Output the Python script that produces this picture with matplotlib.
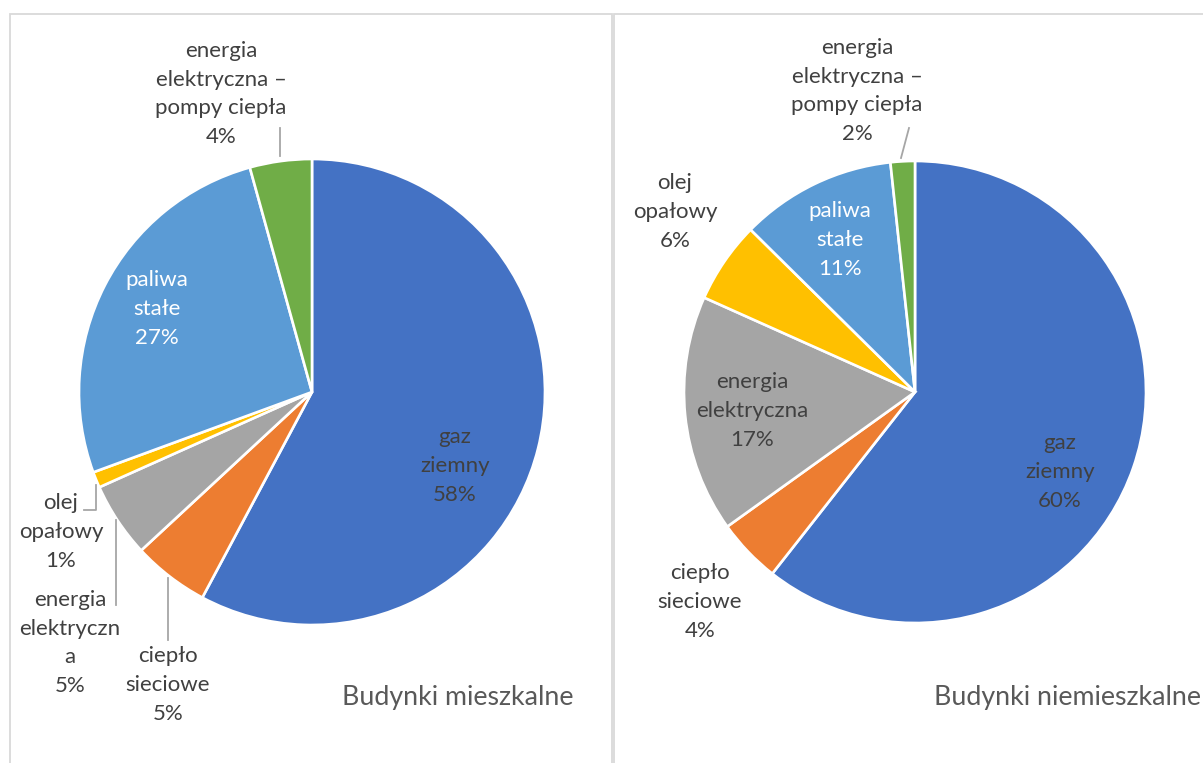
import matplotlib
matplotlib.use("Agg")
import matplotlib.pyplot as plt
from matplotlib.patches import Rectangle

plt.rcParams["font.family"] = ["Lato", "DejaVu Sans"]

W, H = 1203, 763

# dane - budynki mieszkalne (od godz. 12, zgodnie z ruchem wskazówek)
res_labels = ["gaz\nziemny", "ciepło\nsieciowe", "energia\nelektryczn\na",
              "olej\nopałowy", "paliwa\nstałe", "energia\nelektryczna –\npompy ciepła"]
res_values = [57.8, 5.3, 5.2, 1.1, 26.3, 4.3]
res_pct = ["58%", "5%", "5%", "1%", "27%", "4%"]

# dane - budynki niemieszkalne
non_labels = ["gaz\nziemny", "ciepło\nsieciowe", "energia\nelektryczna",
              "olej\nopałowy", "paliwa\nstałe", "energia\nelektryczna –\npompy ciepła"]
non_values = [60.6, 4.5, 16.6, 5.7, 10.9, 1.7]
non_pct = ["60%", "4%", "17%", "6%", "11%", "2%"]

titles = ["Budynki mieszkalne", "Budynki niemieszkalne"]
colors = ["#4472C4", "#ED7D31", "#A5A5A5", "#FFC000", "#5B9BD5", "#70AD47"]

TXT = "#404040"
FS = 16


def fy(y):
    # y liczone od góry obrazka
    return H - y


fig = plt.figure(figsize=(W / 100, H / 100), dpi=100)
ax = fig.add_axes([0, 0, 1, 1])

# ramki paneli
for x0, x1 in [(10, 612), (614, 1210)]:
    ax.add_patch(Rectangle((x0, -5), x1 - x0, fy(14) + 5, fill=False,
                           edgecolor="#D9D9D9", lw=1.3))

wedge_style = dict(edgecolor="white", linewidth=1.9)
ax.pie(res_values, colors=colors, center=(312, fy(392)), radius=233,
       startangle=90, counterclock=False, wedgeprops=wedge_style, frame=True)
ax.pie(non_values, colors=colors, center=(915, fy(392)), radius=231,
       startangle=90, counterclock=False, wedgeprops=wedge_style, frame=True)
ax.set_xlim(0, W)
ax.set_ylim(0, H)
ax.set_aspect("equal")
ax.axis("off")


def label(i, labels, pct, x, y, color=TXT):
    ax.text(x, fy(y), labels[i] + "\n" + pct[i], ha="center",
            va="center", fontsize=FS, color=color, linespacing=1.56)


# lewy wykres
label(0, res_labels, res_pct, 455, 466)
label(1, res_labels, res_pct, 168, 685)
label(2, res_labels, res_pct, 70, 643)
label(3, res_labels, res_pct, 61, 532)
label(4, res_labels, res_pct, 157, 309, color="white")
label(5, res_labels, res_pct, 221, 94)

lc = "#A6A6A6"
ax.plot([280, 280], [fy(128), fy(156)], color=lc, lw=1.3)
ax.plot([84, 96, 96], [fy(510), fy(510), fy(485)], color=lc, lw=1.3)
ax.plot([116, 116], [fy(520), fy(605)], color=lc, lw=1.3)
ax.plot([168, 168], [fy(578), fy(640)], color=lc, lw=1.3)

# prawy wykres
label(0, non_labels, non_pct, 1060, 472)
label(1, non_labels, non_pct, 700, 602)
label(2, non_labels, non_pct, 752, 411)
label(3, non_labels, non_pct, 675, 212)
label(4, non_labels, non_pct, 840, 240, color="white")
label(5, non_labels, non_pct, 857, 91)
ax.plot([909, 901], [fy(128), fy(158)], color=lc, lw=1.3)

ax.text(573, fy(698), titles[0], ha="right", va="center", fontsize=19.3,
        color="#595959")
ax.text(934, fy(698), titles[1], ha="left", va="center", fontsize=19.3,
        color="#595959")

fig.savefig("out.png", dpi=100)
